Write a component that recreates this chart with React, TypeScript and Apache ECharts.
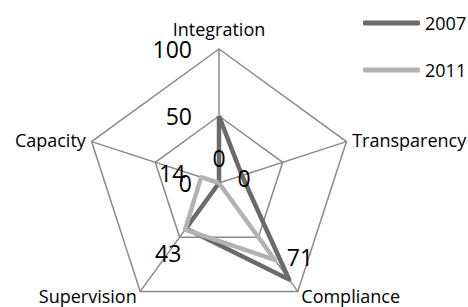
import React, { useEffect, useRef } from 'react';
import * as echarts from 'echarts';

// Indicators in clockwise order starting at the top
const indicators = ['Integration', 'Transparency', 'Compliance', 'Supervision', 'Capacity'];
const maxValue = 100;
const axisTickValues = [0, 50, 100];
const years = ['2007', '2011'];
const values2007 = [50, 18, 89, 42, 0];
const values2011 = [0, 0, 71, 43, 14];

// styling
const FONT = 'Open Sans';
const DARK = '#6a6a6a';
const LIGHT = '#b2b2b2';
const GRID = '#8a8a8a';
const labelOffsets2011: [number, number][] = [[0, -25], [25, -5], [25, -3], [-17, 23], [-29, -4]];

// ECharts places indicators counter-clockwise; reorder so they appear clockwise
const order = indicators.map((_, i) => (i === 0 ? 0 : indicators.length - i));
const reorder = <T,>(arr: T[]) => order.map((i) => arr[i]);

export default function App() {
  const ref = useRef<HTMLDivElement>(null);
  useEffect(() => {
    if (!ref.current) return;
    const chart = echarts.init(ref.current, undefined, { renderer: 'svg' });
    chart.setOption({
      animation: false,
      backgroundColor: '#ffffff',
      textStyle: { fontFamily: FONT },
      legend: {
        data: years,
        orient: 'vertical',
        left: 358,
        top: 8,
        itemWidth: 57,
        itemHeight: 5,
        itemGap: 27,
        icon: 'roundRect',
        textStyle: { fontFamily: FONT, fontSize: 18, color: '#000', lineHeight: 20 },
      },
      radar: {
        center: [219, 183],
        radius: 134,
        startAngle: 90,
        shape: 'polygon',
        splitNumber: axisTickValues.length - 1,
        nameGap: 6,
        axisName: {
          color: '#000',
          fontFamily: FONT,
          fontSize: 18,
          formatter: (name: string) => (name === indicators[0] ? `{t|${name}}` : name),
          rich: { t: { fontFamily: FONT, fontSize: 18, color: '#000', padding: [0, 0, 4, 0] } },
        },
        axisLine: { lineStyle: { color: GRID, width: 1.5 } },
        splitLine: { lineStyle: { color: GRID, width: 1.5 } },
        splitArea: { show: false },
        axisTick: { show: false },
        axisLabel: {
          show: false,
          color: '#000',
          fontFamily: FONT,
          fontSize: 23,
          margin: 27,
          formatter: (v: number) => (axisTickValues.includes(v) ? String(v) : ''),
        },
        indicator: reorder(indicators).map((name, i) => ({
          name,
          max: maxValue,
          min: 0,
          ...(i === 0 ? { axisLabel: { show: true } } : {}),
        })),
      },
      series: [
        {
          type: 'radar',
          symbol: 'none',
          z: 2,
          data: [
            {
              name: years[0],
              value: reorder(values2007),
              lineStyle: { color: DARK, width: 4.5 },
              itemStyle: { color: DARK },
            },
          ],
        },
        {
          type: 'radar',
          symbol: 'none',
          z: 3,
          data: [
            {
              name: years[1],
              value: reorder(values2011),
              lineStyle: { color: LIGHT, width: 4.5 },
              itemStyle: { color: LIGHT },
            },
          ],
        },
      ],
    });

    // data labels for the 2011 series, positioned from the radar coordinate system
    try {
      const cs = (chart as any).getModel().getComponent('radar').coordinateSystem;
      const ordered = reorder(values2011);
      const offs = reorder(labelOffsets2011);
      const graphics = ordered.map((v, i) => {
        const p = cs.dataToPoint(v, i);
        return {
          type: 'text',
          x: p[0] + offs[i][0],
          y: p[1] + offs[i][1],
          z: 10,
          style: {
            text: String(v),
            fontFamily: FONT,
            fontSize: 23,
            fill: '#000',
            align: 'center',
            verticalAlign: 'middle',
          },
        };
      });
      chart.setOption({ graphic: graphics });
    } catch (e) {
      // ignore
    }

    return () => chart.dispose();
  }, []);
  return (
    <div
      ref={ref}
      style={{ position: 'fixed', left: 0, top: 0, width: 468, height: 307 }}
    />
  );
}
